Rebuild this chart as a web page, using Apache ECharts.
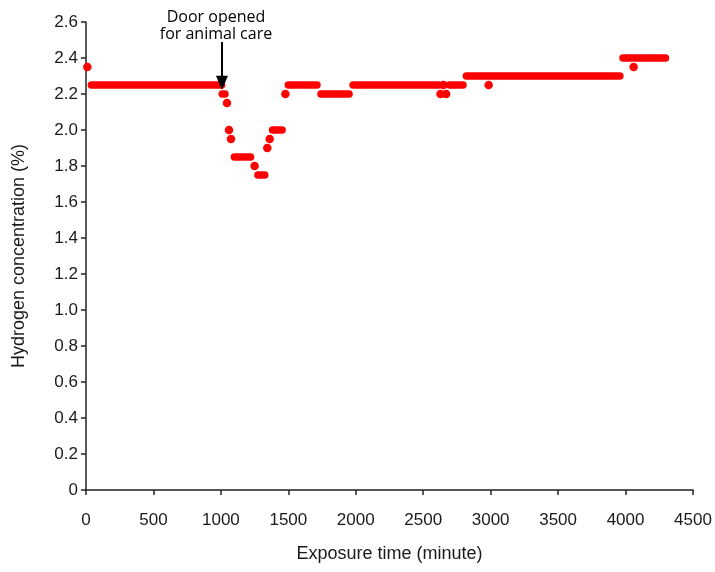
<!DOCTYPE html>
<html>
<head>
<meta charset="utf-8">
<script src="https://cdn.jsdelivr.net/npm/echarts@6/dist/echarts.min.js"></script>
<style>html,body{margin:0;padding:0;background:#fff;}#chart{width:715px;height:572px;}</style>
</head>
<body>
<div id="chart"></div>
<script>
// Runs of consecutive readings at one level: [start minute, end minute, concentration %]
const runs = [
  [40, 1005, 2.25],
  [1010, 1030, 2.2],
  [1100, 1220, 1.85],
  [1275, 1325, 1.75],
  [1383, 1454, 2.0],
  [1500, 1712, 2.25],
  [1742, 1950, 2.2],
  [1980, 2615, 2.25],
  [2695, 2795, 2.25],
  [2820, 3958, 2.3],
  [3981, 4296, 2.4]
];
// Isolated readings: [minute, concentration %]
const dots = [
  [10, 2.35], [1045, 2.15], [1060, 2.0], [1075, 1.95], [1250, 1.8],
  [1344, 1.9], [1362, 1.95], [1478, 2.2], [2628, 2.2], [2650, 2.25],
  [2670, 2.2], [2985, 2.25], [4060, 2.35]
];
const xTicks = { min: 0, max: 4500, interval: 500 };
const yTicks = { min: 0, max: 2.6, interval: 0.2 };
const doorTime = 1008;
const doorLevel = [2.262, 2.489];
const doorText = 'Door opened\nfor animal care';

const RED = '#ff0000';
const chart = echarts.init(document.getElementById('chart'), null, { renderer: 'canvas' });
const axisFont = { fontFamily: 'Liberation Sans, Arial, sans-serif', fontSize: 17, color: '#1a1a1a' };

const series = runs.map(r => ({
  type: 'line',
  data: [[r[0], r[2]], [r[1], r[2]]],
  showSymbol: false,
  silent: true,
  animation: false,
  lineStyle: { color: RED, width: 7.5, cap: 'round', opacity: 1 }
}));
series.push({
  type: 'scatter',
  data: dots,
  symbol: 'circle',
  symbolSize: 8.5,
  itemStyle: { color: RED, opacity: 1 },
  animation: false,
  silent: true,
  markLine: {
    silent: true,
    animation: false,
    symbol: ['none', 'triangle'],
    symbolSize: [12, 14],
    lineStyle: { color: '#000', width: 2, type: 'solid' },
    label: {
      show: true,
      position: 'start',
      formatter: doorText,
      fontFamily: 'Open Sans, sans-serif',
      fontSize: 16,
      lineHeight: 17,
      color: '#000',
      distance: -1,
      offset: [-6, 0]
    },
    data: [[{ coord: [doorTime, doorLevel[1]] }, { coord: [doorTime, doorLevel[0]] }]]
  }
});

chart.setOption({
  backgroundColor: '#fff',
  animation: false,
  grid: { left: 86, right: 22, top: 22, bottom: 82, containLabel: false },
  xAxis: {
    type: 'value',
    min: xTicks.min, max: xTicks.max, interval: xTicks.interval,
    name: 'Exposure time (minute)',
    nameLocation: 'middle',
    nameGap: 55,
    nameTextStyle: { fontFamily: 'Liberation Sans, Arial, sans-serif', fontSize: 18, color: '#1a1a1a' },
    axisLine: { show: true, lineStyle: { color: '#222', width: 1.5 } },
    axisTick: { show: true, length: 5, lineStyle: { color: '#222', width: 1.5 } },
    axisLabel: Object.assign({ margin: 22, formatter: v => String(v) }, axisFont),
    splitLine: { show: false }
  },
  yAxis: {
    type: 'value',
    min: yTicks.min, max: yTicks.max, interval: yTicks.interval,
    name: 'Hydrogen concentration (%)',
    nameLocation: 'middle',
    nameGap: 58,
    nameTextStyle: { fontFamily: 'Liberation Sans, Arial, sans-serif', fontSize: 18, color: '#1a1a1a' },
    axisLine: { show: true, lineStyle: { color: '#222', width: 1.5 } },
    axisTick: { show: true, length: 5, lineStyle: { color: '#222', width: 1.5 } },
    axisLabel: Object.assign({ margin: 8, formatter: v => (v === 0 ? '0' : v.toFixed(1)) }, axisFont),
    splitLine: { show: false }
  },
  series: series
});
</script>
</body>
</html>
